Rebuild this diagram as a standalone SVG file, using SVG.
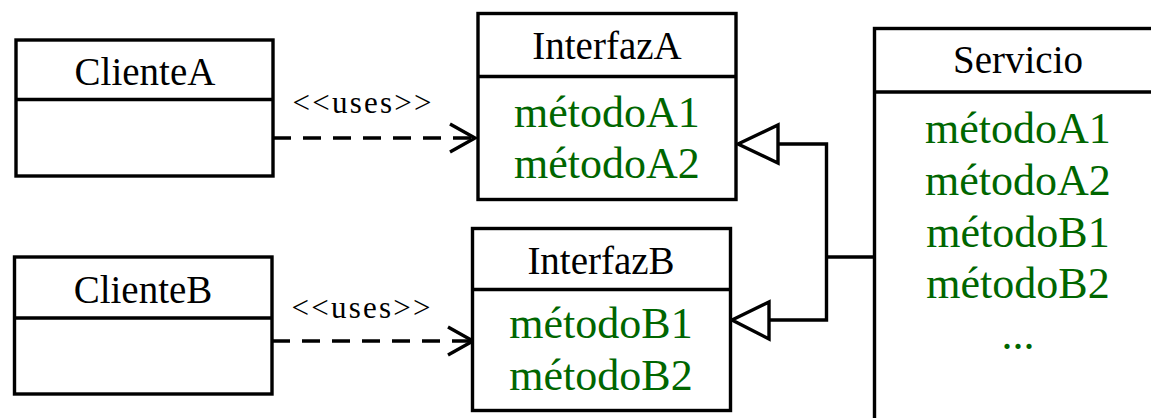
<svg xmlns="http://www.w3.org/2000/svg" width="1151" height="418" viewBox="0 0 1151 418">
<style>
.box{fill:#fff;stroke:#000;stroke-width:3.4}
.ln{fill:none;stroke:#000;stroke-width:3.4}
.dash{fill:none;stroke:#000;stroke-width:3.4;stroke-dasharray:18 12}
.t{font-family:"Liberation Serif","Times New Roman",serif;font-size:39px;fill:#000;text-anchor:middle}
.m{font-family:"Liberation Serif","Times New Roman",serif;font-size:44px;fill:#006600;text-anchor:middle}
.u{font-family:"Liberation Serif","Times New Roman",serif;font-size:31px;fill:#000;text-anchor:middle}
.tri{fill:#fff;stroke:#000;stroke-width:3.4;stroke-linejoin:miter}
</style>
<rect width="1151" height="418" fill="#fff"/>
<g id="connectors">
  <path class="dash" d="M273 138 H473"/>
  <path class="ln" d="M450 124 L475 138 L450 152"/>
  <text class="u" x="362" y="113" textLength="139" lengthAdjust="spacing">&lt;&lt;uses&gt;&gt;</text>
  <path class="dash" d="M272 341 H471"/>
  <path class="ln" d="M448 327 L473 341 L448 355"/>
  <text class="u" x="361" y="318" textLength="139" lengthAdjust="spacing">&lt;&lt;uses&gt;&gt;</text>
  <path class="ln" d="M778 144 H826.5 V320 H769"/>
  <path class="ln" d="M826.5 257 H874"/>
  <path class="tri" d="M738 144 L778 125 L778 163 Z"/>
  <path class="tri" d="M732 320 L769 302 L769 339 Z"/>
</g>
<g id="ClienteA">
  <rect class="box" x="16" y="40" width="257" height="136"/>
  <path class="ln" d="M16 99.5 H273"/>
  <text class="t" x="145" y="85">ClienteA</text>
</g>
<g id="ClienteB">
  <rect class="box" x="14.5" y="257" width="257.5" height="137"/>
  <path class="ln" d="M14.5 318 H272"/>
  <text class="t" x="143" y="303">ClienteB</text>
</g>
<g id="InterfazA">
  <rect class="box" x="478" y="13.5" width="258" height="186"/>
  <path class="ln" d="M478 76.5 H736"/>
  <text class="t" x="607" y="59">InterfazA</text>
  <text class="m" x="607" y="127">métodoA1</text>
  <text class="m" x="607" y="178">métodoA2</text>
</g>
<g id="InterfazB">
  <rect class="box" x="472.5" y="228.5" width="258" height="182"/>
  <path class="ln" d="M472.5 289.5 H730.5"/>
  <text class="t" x="601" y="274">InterfazB</text>
  <text class="m" x="601" y="338">métodoB1</text>
  <text class="m" x="601" y="390">métodoB2</text>
</g>
<g id="Servicio">
  <rect class="box" x="874.5" y="28.5" width="300" height="420"/>
  <path class="ln" d="M874.5 92 H1160"/>
  <text class="t" x="1018" y="73">Servicio</text>
  <text class="m" x="1018" y="143">métodoA1</text>
  <text class="m" x="1018" y="195">métodoA2</text>
  <text class="m" x="1018" y="247">métodoB1</text>
  <text class="m" x="1018" y="298">métodoB2</text>
  <text class="m" x="1018" y="349">...</text>
</g>
</svg>
